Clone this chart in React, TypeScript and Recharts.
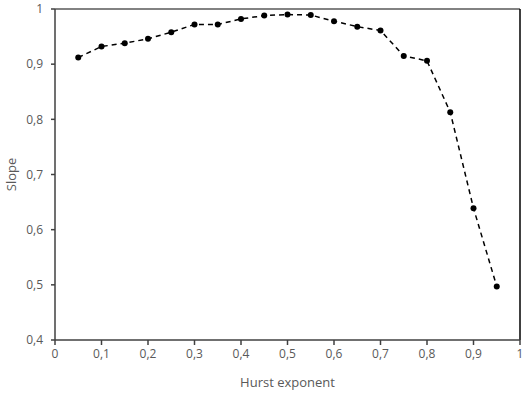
import { LineChart, Line, XAxis, YAxis, ReferenceLine } from 'recharts';

const hurst = [0.05, 0.1, 0.15, 0.2, 0.25, 0.3, 0.35, 0.4, 0.45, 0.5, 0.55, 0.6, 0.65, 0.7, 0.75, 0.8, 0.85, 0.9, 0.95];
const slope = [0.912, 0.932, 0.938, 0.946, 0.958, 0.972, 0.972, 0.982, 0.988, 0.99, 0.989, 0.978, 0.968, 0.961, 0.915, 0.906, 0.813, 0.639, 0.497];
const xTicks = [0, 0.1, 0.2, 0.3, 0.4, 0.5, 0.6, 0.7, 0.8, 0.9, 1];
const yTicks = [0.4, 0.5, 0.6, 0.7, 0.8, 0.9, 1];

const data = hurst.map((h, i) => ({ hurst: h, slope: slope[i] }));

const fmt = (v: number) => String(Math.round(v * 10) / 10).replace('.', ',');

const tickStyle = { fill: '#595959', fontSize: 12, fontFamily: 'Open Sans' };

const SlopeLabel = (props: any) => {
  const vb = props.viewBox || {};
  const cy = (vb.y ?? 9) + (vb.height ?? 331) / 2;
  return (
    <text x={16} y={cy} transform={`rotate(-90, 16, ${cy})`} textAnchor="middle" fill="#595959" fontSize={13} fontFamily="Open Sans">
      Slope
    </text>
  );
};

const App = () => {
  return (
    <div style={{ width: 530, height: 393, background: '#fff' }}>
      <style>{`body{margin:0}`}</style>
      <LineChart width={530} height={393} data={data} margin={{ top: 9, right: 10, left: 0, bottom: 0 }}>
        <XAxis
          type="number"
          dataKey="hurst"
          domain={[0, 1]}
          ticks={xTicks}
          tickFormatter={fmt}
          tick={tickStyle}
          stroke="#404040"
          strokeWidth={1.5}
          tickSize={5}
          tickMargin={4}
          height={53}
          label={{ value: 'Hurst exponent', position: 'insideBottom', offset: 6, fill: '#595959', fontSize: 13, fontFamily: 'Open Sans' }}
        />
        <YAxis
          type="number"
          domain={[0.4, 1]}
          ticks={yTicks}
          tickFormatter={fmt}
          tick={tickStyle}
          stroke="#404040"
          strokeWidth={1.5}
          tickSize={4}
          tickMargin={8}
          width={55}
          label={<SlopeLabel />}
        />
        <ReferenceLine y={1} stroke="#595959" strokeWidth={1.5} />
        <ReferenceLine x={1} stroke="#000" strokeWidth={1.5} />
        <Line
          type="linear"
          dataKey="slope"
          stroke="#000"
          strokeWidth={1.5}
          strokeDasharray="5 4"
          dot={{ r: 3, fill: '#000', stroke: '#000', strokeWidth: 0 }}
          isAnimationActive={false}
        />
      </LineChart>
    </div>
  );
};

export default App;
